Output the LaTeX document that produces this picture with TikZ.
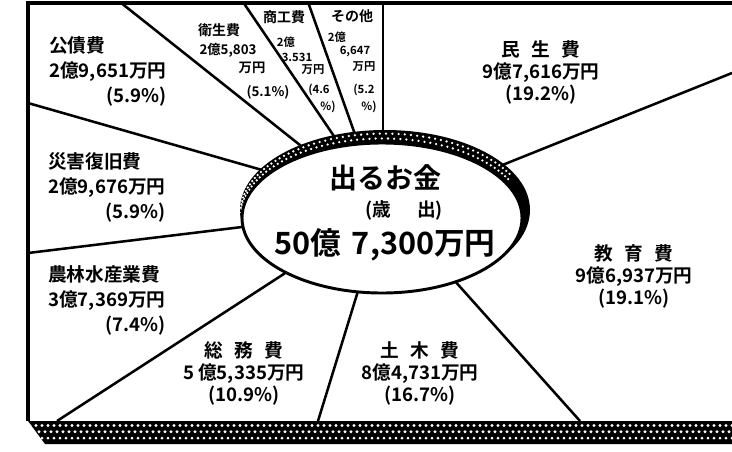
\documentclass[tikz,border=0pt]{standalone}
\usepackage{fontspec}
\setmainfont{Noto Sans CJK JP}[BoldFont={* Bold}]
\newcommand{\fs}[2]{\fontsize{#1}{#2}\selectfont\bfseries}
\begin{document}
\begin{tikzpicture}[x=0.75pt,y=-0.75pt,
  frame/.style={line width=2.6pt, line join=miter},
  spoke/.style={line width=1.9pt},
  lblL/.style={font=\fs{14}{18.75}, inner sep=0pt, anchor=west},
  lblC/.style={font=\fs{14}{16.5}, inner sep=0pt, align=center},
  hdS/.style={font=\fs{10.5}{12}, inner sep=0pt},
  txS/.style={font=\fs{8.5}{9}, inner sep=0pt},
  txM/.style={font=\fs{10}{11}, inner sep=0pt}]
\useasboundingbox (0,0) rectangle (732,451);
% frame
\coordinate (tr) at (732,3);
\coordinate (tl) at (28,3);
\coordinate (bl) at (28,421);
\draw[frame] (tr) -- (tl) -- (bl);
% spokes
\coordinate (a1) at (120,2);  \coordinate (b1) at (320,161);
\coordinate (a2) at (28,103); \coordinate (b2) at (290,178);
\coordinate (a3) at (28,253); \coordinate (b3) at (275,223);
\coordinate (a4) at (57,421); \coordinate (b4) at (310,257);
\coordinate (a5) at (318,421); \coordinate (b5) at (362,278);
\coordinate (a6) at (580,421); \coordinate (b6) at (445,270);
\coordinate (a7) at (732,73); \coordinate (b7) at (480,174);
\coordinate (a8) at (243,2); \coordinate (b8) at (340,145);
\coordinate (a9) at (308,2); \coordinate (b9) at (357,140);
\coordinate (a10) at (383,2); \coordinate (b10) at (383,140);
\foreach \k in {1,...,10} \draw[spoke] (a\k) -- (b\k);
% bottom band
\coordinate (p1) at (28,421); \coordinate (p2) at (732,421);
\coordinate (p3) at (732,444); \coordinate (p4) at (45,444);
\fill[black] (p1) -- (p2) -- (p3) -- (p4) -- cycle;
\begin{scope}
  \clip (p1) -- (p2) -- (p3) -- (p4) -- cycle;
  \foreach \r in {0,1,2} {
    \foreach \i in {0,...,120} {
      \fill[white] ({30+\i*6+mod(\r,2)*3},{425.5+\r*6.3}) circle[radius=1.2pt];
    }
  }
\end{scope}
% central ellipse with rim
\coordinate (sc) at (385,210);
\coordinate (wc) at (382,218);
\fill[black] (sc) ellipse[x radius=108.75pt, y radius=60pt];
\begin{scope}
  \clip (sc) ellipse[x radius=108.75pt, y radius=60pt];
  \foreach \t in {28,30.5,...,178}
    \fill[white] ({383.05+141.75*cos(\t)},{215.2-76.75*sin(\t)}) circle[radius=0.95pt];
  \foreach \t in {29.25,31.75,...,178}
    \fill[white] ({384.2+143.6*cos(\t)},{212.2-78.6*sin(\t)}) circle[radius=0.95pt];
\end{scope}
\draw[line width=2.2pt, fill=white] (wc) ellipse[x radius=105pt, y radius=56.25pt];
% centre text
\node[font=\fs{21}{21}, inner sep=0pt] (t1) at (385,178) {出るお金};
\node[font=\fs{14}{14}, inner sep=0pt] (t2) at (404,210) {(歳\hspace{1.4em}出)};
\node[font=\fs{23}{23}, inner sep=0pt] (t3) at (385,245) {50億\hspace{0.35em}7,300万円};
% left labels
\node[lblL] (kosai) at (49,72) {\begin{tabular}{@{}l@{}}公債費\\2億9,651万円\\\multicolumn{1}{@{}r@{}}{(5.9\%)}\end{tabular}};
\node[lblL] (saigai) at (48,188) {\begin{tabular}{@{}l@{}}災害復旧費\\2億9,676万円\\\multicolumn{1}{@{}r@{}}{(5.9\%)}\end{tabular}};
\node[lblL] (norin) at (48,301) {\begin{tabular}{@{}l@{}}農林水産業費\\3億7,369万円\\\multicolumn{1}{@{}r@{}}{(7.4\%)}\end{tabular}};
% centred labels
\node[lblC] (minsei) at (541,72) {民\hspace{0.6em}生\hspace{0.6em}費\\9億7,616万円\\(19.2\%)};
\node[lblC] (somu) at (244,373) {総\hspace{0.6em}務\hspace{0.6em}費\\5\hspace{0.2em}億5,335万円\\(10.9\%)};
\node[lblC] (doboku) at (420,373) {土\hspace{0.6em}木\hspace{0.6em}費\\8億4,731万円\\(16.7\%)};
\node[lblC] (kyoiku) at (634,276) {教\hspace{0.6em}育\hspace{0.6em}費\\9億6,937万円\\(19.1\%)};
% narrow columns
\node[font=\fs{10.5}{11}, inner sep=0pt] (eisei1) at (219,30) {衛生費};
\node[txM] (eisei2) at (228,50) {2億5,803};
\node[txM] (eisei3) at (252,68) {万円};
\node[txM] (eisei4) at (268,92) {(5.1\%)};
\node[hdS] (shoko1) at (284,17) {商工費};
\node[txS] (shoko2) at (286,42) {2億};
\node[txS] (shoko3) at (297,57) {3.531};
\node[txS] (shoko4) at (313,70) {万円};
\node[txS] (shoko5) at (319,90) {(4.6};
\node[txS] (shoko6) at (328,107) {\%)};
\node[hdS] (sonota1) at (352,16) {その他};
\node[txS] (sonota2) at (337,37) {2億};
\node[txS] (sonota3) at (355,52) {6,647};
\node[txS] (sonota4) at (364,67) {万円};
\node[txS] (sonota5) at (364,90) {(5.2};
\node[txS] (sonota6) at (369,107) {\%)};
\end{tikzpicture}
\end{document}
